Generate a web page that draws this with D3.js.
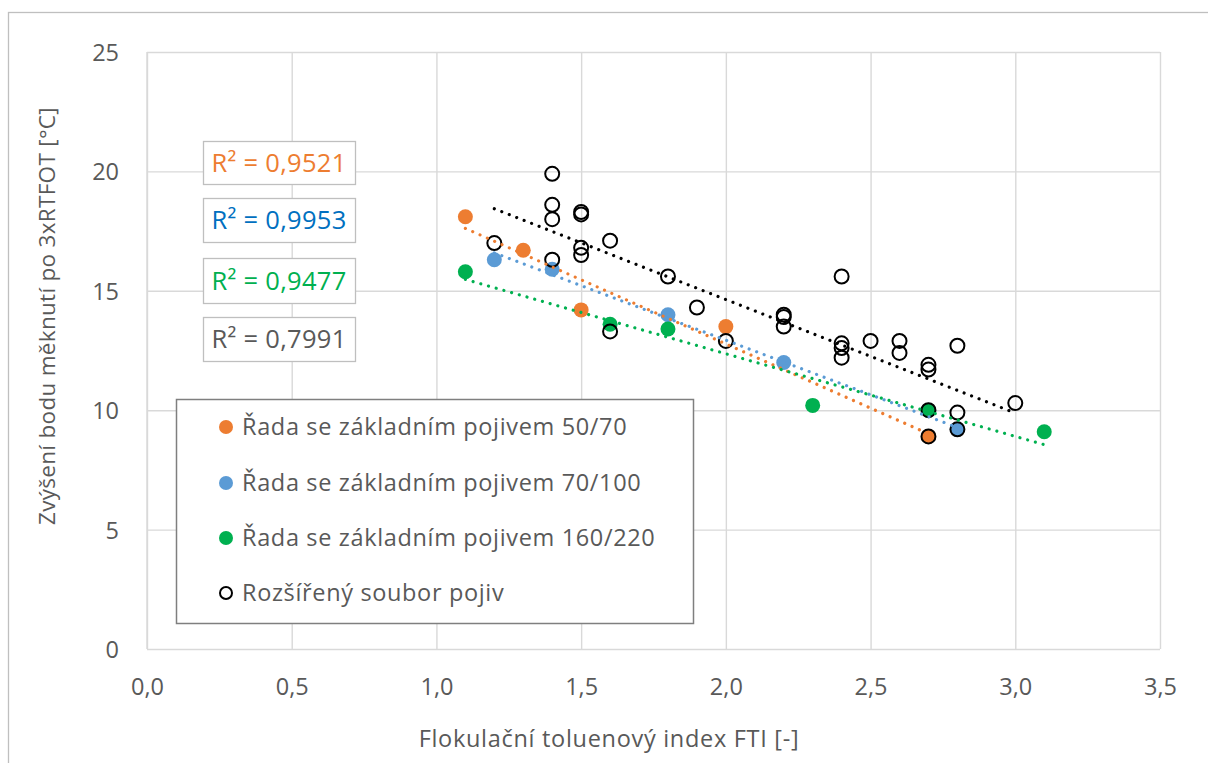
<!DOCTYPE html>
<html>
<head>
<meta charset="utf-8">
<script src="https://cdn.jsdelivr.net/npm/d3@7/dist/d3.min.js"></script>
<style>
  html, body { margin: 0; padding: 0; background: #fff; }
  svg { display: block; font-family: "Open Sans", "Noto Sans", sans-serif; }
</style>
</head>
<body>
<svg id="chart" width="1208" height="763"></svg>
<script>
// Series: FTI (x) vs. softening point increase after 3xRTFOT (y)
const orangeX = [1.1, 1.3, 1.5, 2.0, 2.7];
const orangeY = [18.1, 16.7, 14.2, 13.5, 8.9];

const blueX = [1.2, 1.4, 1.8, 2.2, 2.8];
const blueY = [16.3, 15.9, 14.0, 12.0, 9.2];

const greenX = [1.1, 1.6, 1.8, 2.3, 2.7, 3.1];
const greenY = [15.8, 13.6, 13.4, 10.2, 10.0, 9.1];

const openX = [1.2, 1.4, 1.4, 1.4, 1.4, 1.5, 1.5, 1.5, 1.5, 1.6, 1.6, 1.8, 1.9, 2.0,
               2.2, 2.2, 2.2, 2.4, 2.4, 2.4, 2.4, 2.5, 2.6, 2.6, 2.7, 2.7, 2.7, 2.7,
               2.8, 2.8, 2.8, 3.0];
const openY = [17.0, 19.9, 18.6, 18.0, 16.3, 18.3, 18.2, 16.8, 16.5, 17.1, 13.3, 15.6, 14.3, 12.9,
               14.0, 13.9, 13.5, 15.6, 12.8, 12.6, 12.2, 12.9, 12.9, 12.4, 11.9, 11.7, 10.0, 8.9,
               12.7, 9.9, 9.2, 10.3];

const seriesNames = [
  "Řada se základním pojivem 50/70",
  "Řada se základním pojivem 70/100",
  "Řada se základním pojivem 160/220",
  "Rozšířený soubor pojiv"
];
const r2Labels = ["R² = 0,9521", "R² = 0,9953", "R² = 0,9477", "R² = 0,7991"];

const xTicks = [0, 0.5, 1.0, 1.5, 2.0, 2.5, 3.0, 3.5];
const yTicks = [0, 5, 10, 15, 20, 25];

const xTitle = "Flokulační toluenový index FTI [-]";
const yTitle = "Zvýšení bodu měknutí po 3xRTFOT [°C]";

// ---- styling ----
const markerColors = ["#ED7D31", "#5B9BD5", "#00B050", "none"];
const lineColors = ["#ED7D31", "#5B9BD5", "#00B050", "#000000"];
const r2Colors = ["#ED7D31", "#0070C0", "#00B050", "#595959"];
const textGray = "#595959";

const svg = d3.select("#chart");
const plot = { left: 147, top: 52, right: 1160, bottom: 649 };

const x = d3.scaleLinear().domain([0, 3.5]).range([plot.left, plot.right]);
const y = d3.scaleLinear().domain([0, 25]).range([plot.bottom, plot.top]);

const cz = d3.formatLocale({ decimal: ",", thousands: " ", grouping: [3], currency: ["", " Kč"] });
const fmtX = cz.format(".1f");

// chart frame
svg.append("rect")
  .attr("x", 8.5).attr("y", 12.5).attr("width", 1260).attr("height", 800)
  .attr("fill", "#fff").attr("stroke", "#BFBFBF").attr("stroke-width", 1.3);

// grid + tick labels
const gx = svg.append("g")
  .attr("transform", `translate(0,${plot.bottom})`)
  .call(d3.axisBottom(x).tickValues(xTicks).tickSize(-(plot.bottom - plot.top)).tickFormat(fmtX).tickPadding(29));
const gy = svg.append("g")
  .attr("transform", `translate(${plot.left},0)`)
  .call(d3.axisLeft(y).tickValues(yTicks).tickSize(-(plot.right - plot.left)).tickPadding(28));

[gx, gy].forEach(g => {
  g.select(".domain").remove();
  g.selectAll(".tick line").attr("stroke", "#D9D9D9").attr("stroke-width", 1.4);
  g.selectAll(".tick text").attr("fill", textGray).attr("font-size", 23.5)
    .attr("font-family", "'Open Sans', sans-serif");
});
gy.selectAll(".tick text").attr("dy", "0.36em");
// left border of plot area
svg.append("line")
  .attr("x1", x(0)).attr("x2", x(0)).attr("y1", plot.top).attr("y2", plot.bottom)
  .attr("stroke", "#D9D9D9").attr("stroke-width", 1.4);

// axis titles
svg.append("text")
  .attr("x", 609).attr("y", 747).attr("text-anchor", "middle")
  .attr("fill", textGray).attr("font-size", 23.5).attr("letter-spacing", 0.7).text(xTitle);
svg.append("text")
  .attr("transform", "translate(55,316) rotate(-90)")
  .attr("text-anchor", "middle")
  .attr("fill", textGray).attr("font-size", 22.5).attr("letter-spacing", 0.3).text(yTitle);

// markers
const series = [
  { xs: orangeX, ys: orangeY },
  { xs: blueX, ys: blueY },
  { xs: greenX, ys: greenY },
  { xs: openX, ys: openY }
];

series.forEach((s, i) => {
  const pts = s.xs.map((v, j) => [v, s.ys[j]]);
  svg.append("g").selectAll("circle").data(pts).join("circle")
    .attr("cx", d => x(d[0])).attr("cy", d => y(d[1]))
    .attr("r", i === 3 ? 7 : 7.5)
    .attr("fill", markerColors[i])
    .attr("stroke", i === 3 ? "#000" : "none")
    .attr("stroke-width", 2);
});

// linear trendlines (least squares)
function fit(xs, ys) {
  const mx = d3.mean(xs), my = d3.mean(ys);
  let sxy = 0, sxx = 0;
  xs.forEach((v, j) => { sxy += (v - mx) * (ys[j] - my); sxx += (v - mx) * (v - mx); });
  const b = sxy / sxx;
  return v => my + b * (v - mx);
}
series.forEach((s, i) => {
  const f = fit(s.xs, s.ys);
  const [x0, x1] = d3.extent(s.xs);
  svg.append("line")
    .attr("x1", x(x0)).attr("y1", y(f(x0)))
    .attr("x2", x(x1)).attr("y2", y(f(x1)))
    .attr("stroke", lineColors[i]).attr("stroke-width", 3.2)
    .attr("stroke-linecap", "round")
    .attr("stroke-dasharray", "0.01 8");
});

// R² labels
const r2Boxes = [
  { y: 141, h: 43 },
  { y: 198, h: 44 },
  { y: 258, h: 45 },
  { y: 317, h: 44 }
];
r2Labels.forEach((t, i) => {
  const b = r2Boxes[i];
  svg.append("rect")
    .attr("x", 203.5).attr("y", b.y + 0.5).attr("width", 152).attr("height", b.h)
    .attr("fill", "#fff").attr("stroke", "#BFBFBF").attr("stroke-width", 1.3);
  svg.append("text")
    .attr("x", 279).attr("y", b.y + b.h / 2).attr("dy", "0.36em")
    .attr("text-anchor", "middle").attr("fill", r2Colors[i]).attr("font-size", 25.5)
    .attr("letter-spacing", 0.3)
    .text(t);
});

// legend
const legend = svg.append("g");
legend.append("rect")
  .attr("x", 176.5).attr("y", 399.5).attr("width", 517).attr("height", 224)
  .attr("fill", "#fff").attr("stroke", "#7F7F7F").attr("stroke-width", 1.5);
const legendY = [427, 483, 538, 593];
seriesNames.forEach((name, i) => {
  legend.append("circle")
    .attr("cx", 226).attr("cy", legendY[i])
    .attr("r", i === 3 ? 6 : 7)
    .attr("fill", markerColors[i])
    .attr("stroke", i === 3 ? "#000" : "none").attr("stroke-width", 2);
  legend.append("text")
    .attr("x", 242).attr("y", legendY[i]).attr("dy", "0.36em")
    .attr("fill", textGray).attr("font-size", 23.5).attr("letter-spacing", 0.65).text(name);
});
</script>
</body>
</html>
